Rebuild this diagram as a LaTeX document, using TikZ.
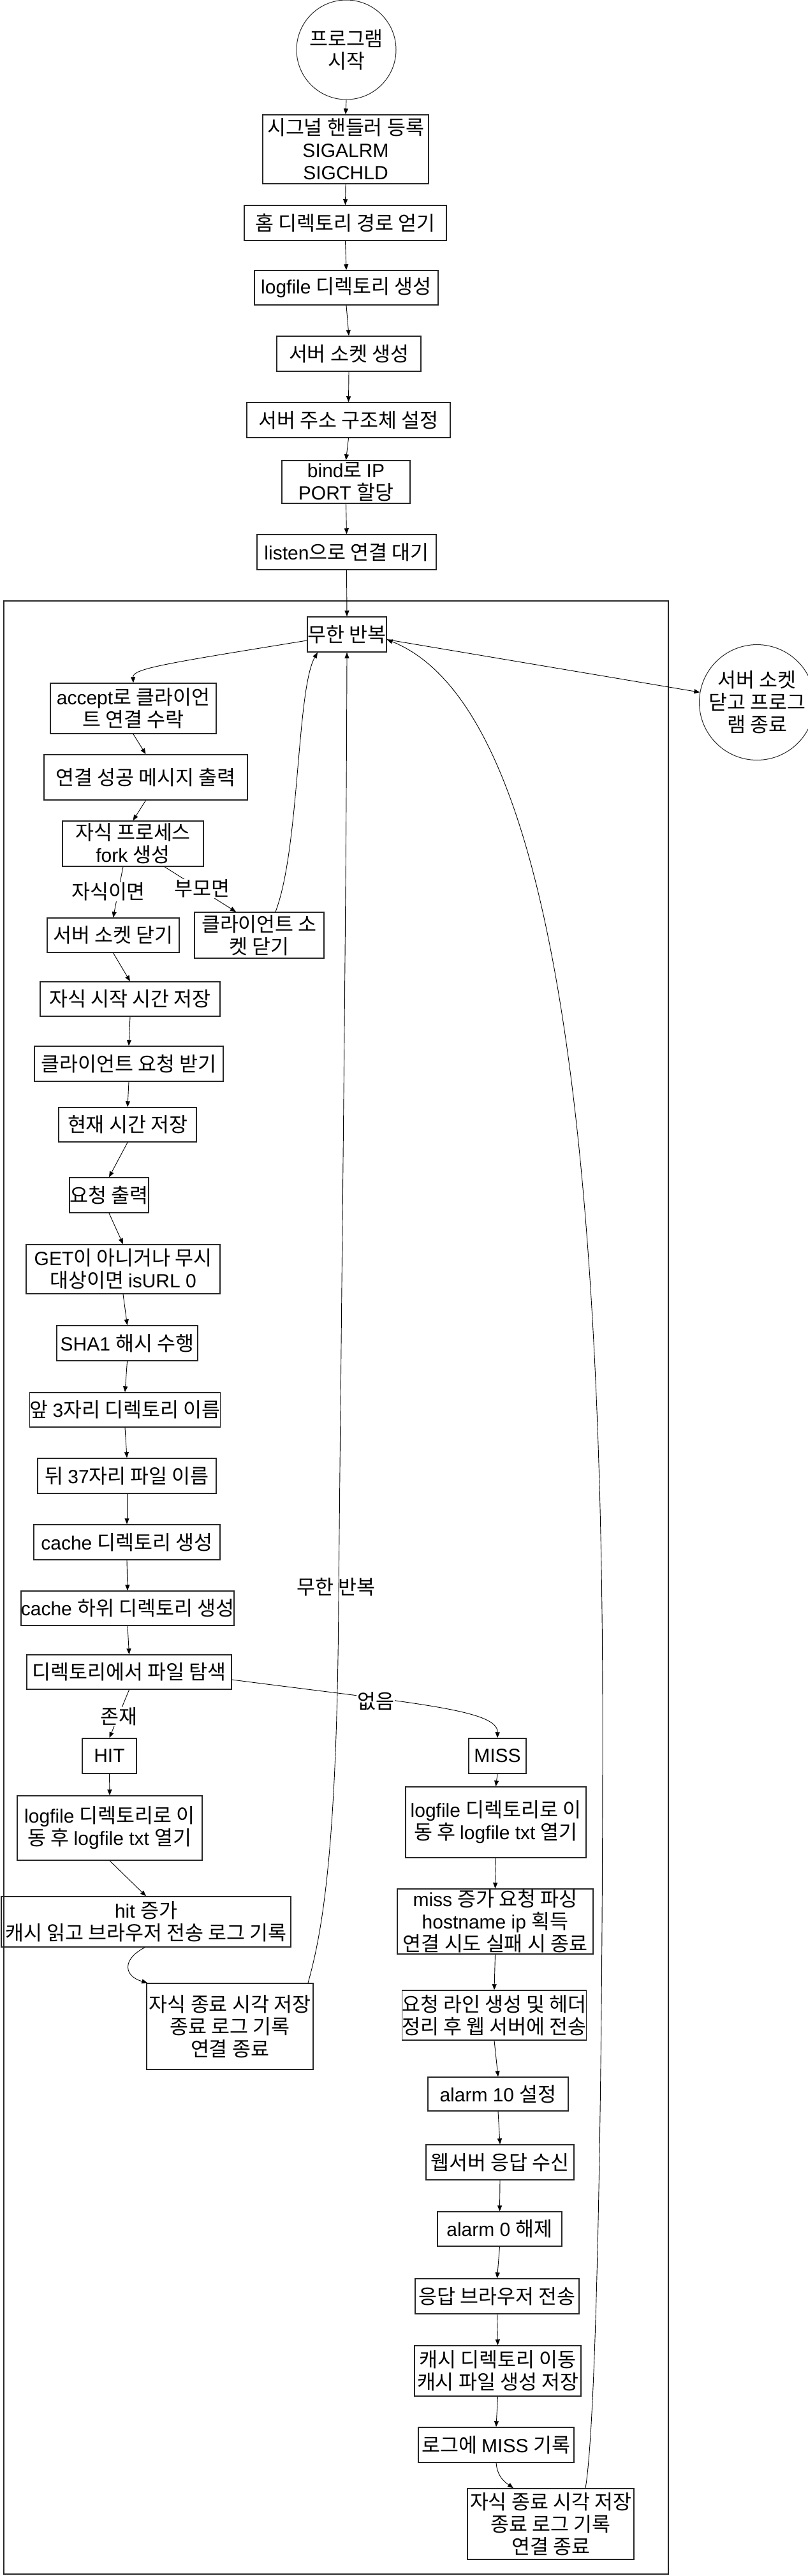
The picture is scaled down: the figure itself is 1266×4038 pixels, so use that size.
\documentclass[tikz,border=0pt]{standalone}
\usepackage{fontspec}
\setmainfont{Liberation Sans}
\newfontfamily\krfont[Scale=1.05]{Noto Sans CJK KR}
\newfontfamily\latfont{Liberation Sans}
\XeTeXinterchartokenstate=1
\newXeTeXintercharclass\hgclass
\newcount\hgcnt
\hgcnt="AC00
\loop
  \XeTeXcharclass\hgcnt=\hgclass
  \advance\hgcnt by 1
\ifnum\hgcnt<"D7A4 \repeat
\XeTeXinterchartoks 0 \hgclass = {\krfont}
\XeTeXinterchartoks 4095 \hgclass = {\krfont}
\XeTeXinterchartoks \hgclass 0 = {\latfont}
\XeTeXinterchartoks 4095 0 = {\latfont}
\usetikzlibrary{arrows.meta}
\tikzset{
  pbox/.style={draw=black!85, line width=1.5pt, inner sep=0pt, align=center,
    font=\fontsize{30}{35}\selectfont},
  pcirc/.style={circle, draw=black!85, line width=1pt, inner sep=0pt, align=center,
    font=\fontsize{30}{35}\selectfont},
  arr/.style={-{Triangle[length=9pt,width=7pt]}, line width=0.9pt},
  lab/.style={font=\fontsize{30}{35}\selectfont, inner sep=1pt},
  wlab/.style={lab, fill=white},
}
\newcommand{\bx}[6]{\node[pbox, minimum width=#4pt, minimum height=#5pt] (#1) at (#2,#3) {#6};}
\begin{document}
\begin{tikzpicture}[x=1pt,y=-1pt]
\useasboundingbox (0,0) rectangle (1266,4038);
% loop frame
\draw[line width=1.5pt, black!85] (6,942) rectangle (1048,4035);
% nodes
\node[pcirc, minimum size=156pt] (start) at (543,78) {프로그램\\시작};
\bx{sig}{542}{234}{260}{108}{시그널 핸들러 등록\\SIGALRM\\SIGCHLD}
\bx{home}{541.5}{349.5}{317}{55}{홈 디렉토리 경로 얻기}
\bx{logdir}{543}{451}{288}{54}{logfile 디렉토리 생성}
\bx{sock}{547}{554.5}{226}{55}{서버 소켓 생성}
\bx{addr}{546.5}{658.5}{319}{55}{서버 주소 구조체 설정}
\bx{bind}{542.5}{755.5}{201}{67}{bind로 IP\\PORT 할당}
\bx{listen}{543.5}{865.5}{281}{55}{listen으로 연결 대기}
\bx{loop}{544}{994.5}{124}{55}{무한 반복}
\node[pcirc, minimum size=154pt] (exit) at (1187,1101) {서버 소켓\\닫고 프로그\\램 종료};
\bx{accept}{209}{1110.5}{260}{79}{accept로 클라이언\\트 연결 수락}
\bx{conn}{228.5}{1218.5}{319}{71}{연결 성공 메시지 출력}
\bx{fork}{208.5}{1322.5}{221}{71}{자식 프로세스\\fork 생성}
\bx{closesrv}{177.5}{1466}{207}{54}{서버 소켓 닫기}
\bx{closecli}{406.5}{1466}{203}{72}{클라이언트 소\\켓 닫기}
\bx{childstart}{204}{1566}{282}{54}{자식 시작 시간 저장}
\bx{recv}{202}{1667.5}{296}{55}{클라이언트 요청 받기}
\bx{now}{200}{1763}{216}{54}{현재 시간 저장}
\bx{print}{171}{1873.5}{124}{55}{요청 출력}
\bx{get}{193}{1989.5}{304}{77}{GET이 아니거나 무시\\대상이면 isURL 0}
\bx{sha}{199.5}{2105.5}{221}{55}{SHA1 해시 수행}
\bx{front}{196}{2210}{294}{54}{앞 3자리 디렉토리 이름}
\bx{back}{199}{2313.5}{280}{55}{뒤 37자리 파일 이름}
\bx{cdir}{199}{2417.5}{292}{55}{cache 디렉토리 생성}
\bx{csub}{200}{2521}{332}{54}{cache 하위 디렉토리 생성}
\bx{search}{202.5}{2621}{321}{54}{디렉토리에서 파일 탐색}
\bx{hit}{171.5}{2752.5}{85}{55}{HIT}
\bx{miss}{780}{2752.5}{90}{55}{MISS}
\bx{hlog}{172}{2865.5}{290}{101}{logfile 디렉토리로 이\\동 후 logfile txt 열기}
\bx{mlog}{777.5}{2856.5}{283}{111}{logfile 디렉토리로 이\\동 후 logfile txt 열기}
\bx{hinc}{229}{3012.5}{454}{79}{hit 증가\\캐시 읽고 브라우저 전송 로그 기록}
\bx{minc}{776.5}{3012}{307}{102}{miss 증가 요청 파싱\\hostname ip 획득\\연결 시도 실패 시 종료}
\bx{endH}{360.5}{3176.5}{261}{135}{자식 종료 시각 저장\\종료 로그 기록\\연결 종료}
\bx{reqline}{775}{3159}{288}{78}{요청 라인 생성 및 헤더\\정리 후 웹 서버에 전송}
\bx{alarmA}{781}{3282.5}{220}{53}{alarm 10 설정}
\bx{webrecv}{784}{3389.5}{232}{55}{웹서버 응답 수신}
\bx{alarmB}{783.5}{3494}{195}{54}{alarm 0 해제}
\bx{resp}{779.5}{3599.5}{257}{55}{응답 브라우저 전송}
\bx{cmove}{780.5}{3716.5}{261}{79}{캐시 디렉토리 이동\\캐시 파일 생성 저장}
\bx{logmiss}{778}{3832.5}{244}{55}{로그에 MISS 기록}
\bx{endM}{863.5}{3956.5}{261}{111}{자식 종료 시각 저장\\종료 로그 기록\\연결 종료}
% straight chain edges
\foreach \a/\b in {start/sig, sig/home, home/logdir, logdir/sock, sock/addr, addr/bind,
  bind/listen, listen/loop, accept/conn, conn/fork, closesrv/childstart, childstart/recv,
  recv/now, now/print, print/get, get/sha, sha/front, front/back, back/cdir, cdir/csub,
  csub/search, hit/hlog, hlog/hinc, miss/mlog, mlog/minc, minc/reqline, reqline/alarmA,
  alarmA/webrecv, webrecv/alarmB, alarmB/resp, resp/cmove, cmove/logmiss}
  \draw[arr] (\a.south) -- (\b.north);
% loop to accept
\draw[arr] ([yshift=-9.5pt]loop.west) .. controls (260,1040) and (208,1048) .. (accept.north);
% loop to exit
\draw[arr] ([yshift=-8pt]loop.east) -- (exit.170);
% fork branches
\draw[arr] ([xshift=-15.5pt]fork.south) -- (closesrv.north);
\node[wlab] (lchild) at (170,1398) {자식이면};
\draw[arr] ([xshift=49.5pt]fork.south) -- ([xshift=-36.5pt]closecli.north);
\node[wlab] (lparent) at (317,1393) {부모면};
% parent returns to loop
\draw[arr] ([xshift=25.5pt]closecli.north) .. controls (470,1330) and (465,1080) .. ([xshift=-46pt]loop.south);
% search branches
\draw[arr] (search.south) -- (hit.north);
\node[wlab] (lexist) at (186,2691) {존재};
\draw[arr] ([yshift=-12pt]search.east) .. controls (650,2670) and (781,2680) .. (miss.north);
\node[wlab] (lnone) at (589,2667) {없음};
% hit end
\draw[arr] ([xshift=-2pt]hinc.south) .. controls (190,3072) and (195,3098) .. ([xshift=2pt]endH.north west);
\draw[arr] ([xshift=122.5pt]endH.north) .. controls (505,3030) and (529,2900) .. (531,2500)
  .. controls (537,1900) and (543,1400) .. (loop.south);
\node[lab] (linf) at (527,2488) {무한 반복};
% miss end
\draw[arr] (logmiss.south) .. controls (780,3885) and (795,3893) .. ([xshift=-58.5pt]endM.north);
\draw[arr] ([xshift=54.5pt]endM.north) .. controls (935,3800) and (945,3300) .. (945,2700)
  .. controls (945,1700) and (850,1100) .. ([yshift=-8pt]loop.east);
\end{tikzpicture}
\end{document}
